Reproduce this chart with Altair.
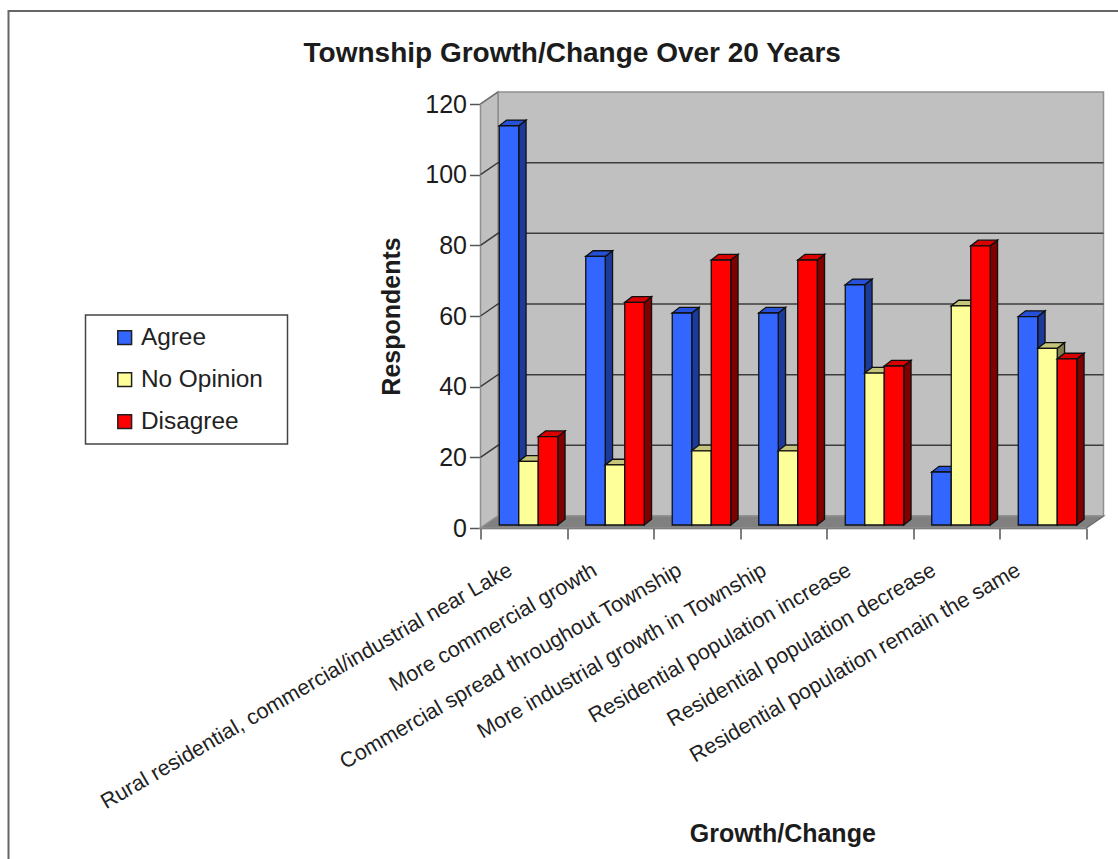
import altair as alt
import pandas as pd

FONT = "Liberation Sans"

categories = [
    "Rural residential, commercial/industrial near Lake",
    "More commercial growth",
    "Commercial spread throughout Township",
    "More industrial growth in Township",
    "Residential population increase",
    "Residential population decrease",
    "Residential population remain the same",
]
series_names = ["Agree", "No Opinion", "Disagree"]
agree = [113, 76, 60, 60, 68, 15, 59]
no_opinion = [18, 17, 21, 21, 43, 62, 50]
disagree = [25, 63, 75, 75, 45, 79, 47]
y_ticks = [0, 20, 40, 60, 80, 100, 120]

front_colors = ["#3366ff", "#ffff99", "#ff0000"]
side_colors = ["#1c3a99", "#80804d", "#800000"]
top_colors = ["#2650d8", "#c4c47a", "#d80000"]

# Plot box in pixels; one category is W / 7 wide, one value unit is H / 120 high.
W, H = 605.5, 424.0
PX_X = 7 / W
PX_Y = 120 / H

# Oblique projection of the box and of each bar, in data units.
WALL_DX, WALL_DY = 17.5 * PX_X, 12 * PX_Y
BAR_DX, BAR_DY = 7.3 * PX_X, 5.7 * PX_Y
BASE_DX, BASE_DY = 4.75 * PX_X, 3.0 * PX_Y
BAR_W = 19.5 * PX_X

x_scale = alt.Scale(domain=[0, 7], nice=False, zero=False)
y_scale = alt.Scale(domain=[0, 120], nice=False, zero=False)
x_enc = alt.X("x:Q", scale=x_scale, axis=None)
y_enc = alt.Y("y:Q", scale=y_scale, stack=None, axis=None)

# Walls and floor of the box
box_rows = []
for px, l, h, l2, h2 in [
    (0, 0, 0, 0, 120),
    (WALL_DX, WALL_DY, WALL_DY, WALL_DY, 120 + WALL_DY),
]:
    box_rows.append({"part": "side", "x": px, "y": l2, "y2": h2})
for px, y0, y1 in [(WALL_DX, WALL_DY, 120 + WALL_DY), (7 + WALL_DX, WALL_DY, 120 + WALL_DY)]:
    box_rows.append({"part": "back", "x": px, "y": y0, "y2": y1})
for px, y0, y1 in [
    (0, 0, 0),
    (WALL_DX, 0, WALL_DY),
    (7, 0, WALL_DY),
    (7 + WALL_DX, WALL_DY, WALL_DY),
]:
    box_rows.append({"part": "floor", "x": px, "y": y0, "y2": y1})
box = pd.DataFrame(box_rows)


def wall(part, fill):
    return (
        alt.Chart(box[box.part == part])
        .mark_area(fill=fill, stroke="#8f8f8f", strokeWidth=1.5)
        .encode(x=x_enc, y=y_enc, y2="y2:Q")
    )


# Gridlines run up the side wall and across the back wall.
grid_rows = []
for t in y_ticks[1:-1]:
    grid_rows += [
        {"tick": t, "step": 0, "x": 0, "y": t},
        {"tick": t, "step": 1, "x": WALL_DX, "y": t + WALL_DY},
        {"tick": t, "step": 2, "x": 7 + WALL_DX, "y": t + WALL_DY},
    ]
grid = (
    alt.Chart(pd.DataFrame(grid_rows))
    .mark_line(color="#3c3c3c", strokeWidth=1.5)
    .encode(x=x_enc, y=y_enc, detail="tick:N", order="step:Q")
)

# Right-hand and lower edges of the box
edge_rows = [
    {"edge": "right", "step": 0, "x": 7, "y": 0},
    {"edge": "right", "step": 1, "x": 7 + WALL_DX, "y": WALL_DY},
    {"edge": "left", "step": 0, "x": 0, "y": 120},
    {"edge": "left", "step": 1, "x": WALL_DX, "y": 120 + WALL_DY},
]
edges = (
    alt.Chart(pd.DataFrame(edge_rows))
    .mark_line(color="#6e6e6e", strokeWidth=1.5)
    .encode(x=x_enc, y=y_enc, detail="edge:N", order="step:Q")
)

# Bars, drawn left to right so that each front face hides its neighbour's side.
bar_layers = []
for s, (name, values) in enumerate(zip(series_names, [agree, no_opinion, disagree])):
    front, side, top = [], [], []
    for i, v in enumerate(values):
        left = i + 0.5 + BASE_DX + (s - 1.5) * BAR_W
        right = left + BAR_W
        base = BASE_DY
        value_y = v + BASE_DY
        front.append({"series": name, "x": left, "x2": right, "y": base, "y2": value_y})
        side += [
            {"bar": i, "x": right, "y": base, "y2": value_y},
            {"bar": i, "x": right + BAR_DX, "y": base + BAR_DY, "y2": value_y + BAR_DY},
        ]
        top += [
            {"bar": i, "x": left, "y": value_y, "y2": value_y},
            {"bar": i, "x": left + BAR_DX, "y": value_y, "y2": value_y + BAR_DY},
            {"bar": i, "x": right, "y": value_y, "y2": value_y + BAR_DY},
            {"bar": i, "x": right + BAR_DX, "y": value_y + BAR_DY, "y2": value_y + BAR_DY},
        ]
    face = dict(stroke="#101010", strokeWidth=1.3)
    bar_layers.append(
        alt.Chart(pd.DataFrame(side))
        .mark_area(fill=side_colors[s], **face)
        .encode(x=x_enc, y=y_enc, y2="y2:Q", detail="bar:N")
    )
    bar_layers.append(
        alt.Chart(pd.DataFrame(top))
        .mark_area(fill=top_colors[s], **face)
        .encode(x=x_enc, y=y_enc, y2="y2:Q", detail="bar:N")
    )
    bar_layers.append(
        alt.Chart(pd.DataFrame(front))
        .mark_rect(**face)
        .encode(
            x=x_enc,
            x2="x2:Q",
            y=y_enc,
            y2="y2:Q",
            color=alt.Color(
                "series:N",
                scale=alt.Scale(domain=series_names, range=front_colors),
                legend=alt.Legend(
                    title=None,
                    orient="none",
                    legendX=-368,
                    legendY=221.5,
                    symbolType="square",
                    symbolSize=190,
                    symbolStrokeColor="#202020",
                    symbolStrokeWidth=1.5,
                    labelFont=FONT,
                    labelFontSize=24.4,
                    labelColor="#222222",
                    labelOffset=4,
                    rowPadding=17,
                    padding=0,
                ),
            ),
        )
    )

# Axes share the front plane of the box.
axis_rows = pd.DataFrame({"x": [0.0], "y": [0.0]})
axes = (
    alt.Chart(axis_rows)
    .mark_point(opacity=0)
    .encode(
        x=alt.X(
            "x:Q",
            scale=x_scale,
            title="Growth/Change",
            axis=alt.Axis(
                orient="bottom",
                values=list(range(8)),
                labels=False,
                grid=False,
                tickColor="#555555",
                tickSize=11,
                tickWidth=1.5,
                domainColor="#555555",
                domainWidth=1.5,
                titleFont=FONT,
                titleFontSize=25,
                titleFontWeight="bold",
                titleColor="#1c1c1c",
                titleY=293,
                titleX=W / 2 - 1,
            ),
        ),
        y=alt.Y(
            "y:Q",
            scale=y_scale,
            title="Respondents",
            axis=alt.Axis(
                orient="left",
                values=y_ticks,
                grid=False,
                tickColor="#555555",
                tickSize=11,
                tickWidth=1.5,
                domainColor="#555555",
                domainWidth=1.5,
                labelFont=FONT,
                labelFontSize=25,
                labelColor="#1c1c1c",
                labelPadding=3,
                titleFont=FONT,
                titleFontSize=25,
                titleFontWeight="bold",
                titleColor="#1c1c1c",
                titleX=-76,
            ),
        ),
    )
)

# Category names, slanted and ending under each group
label_table = pd.DataFrame(
    {
        "label": categories,
        "x": [i + 0.5 - (13 + 1.8 * i) * PX_X for i in range(len(categories))],
    }
)
labels = (
    alt.Chart(label_table)
    .mark_text(
        font=FONT,
        fontSize=21.5,
        align="right",
        baseline="middle",
        angle=330,
        color="#222222",
    )
    .encode(x=x_enc, y=alt.value(H + 41), text="label:N")
)

one_row = pd.DataFrame({"k": [0]})
frame = (
    alt.Chart(one_row)
    .mark_rect(fill="transparent", stroke="#666666", strokeWidth=2)
    .encode(
        x=alt.value(-472),
        x2=alt.value(680),
        y=alt.value(-93),
        y2=alt.value(800),
    )
)
legend_box = (
    alt.Chart(one_row)
    .mark_rect(fill="transparent", stroke="#444444", strokeWidth=1.5)
    .encode(
        x=alt.value(-395),
        x2=alt.value(-193),
        y=alt.value(211),
        y2=alt.value(340),
    )
)

chart = (
    alt.layer(
        frame,
        wall("back", "#c0c0c0"),
        wall("side", "#c0c0c0"),
        wall("floor", "#808080"),
        grid,
        edges,
        *bar_layers,
        axes,
        labels,
        legend_box,
    )
    .resolve_axis(x="independent", y="independent")
    .properties(
        width=W,
        height=H,
        background="white",
        autosize=alt.AutoSizeParams(type="none"),
        padding={"left": 480.5, "top": 104, "right": 32, "bottom": 331},
        title=alt.TitleParams(
            "Township Growth/Change Over 20 Years",
            font=FONT,
            fontSize=28,
            fontWeight="bold",
            color="#1c1c1c",
            anchor="middle",
            frame="group",
            dx=-211,
            dy=58,
            offset=0,
        ),
    )
    .configure_view(stroke=None)
)

chart.save("out.html", embed_options={"renderer": "svg", "actions": False})
